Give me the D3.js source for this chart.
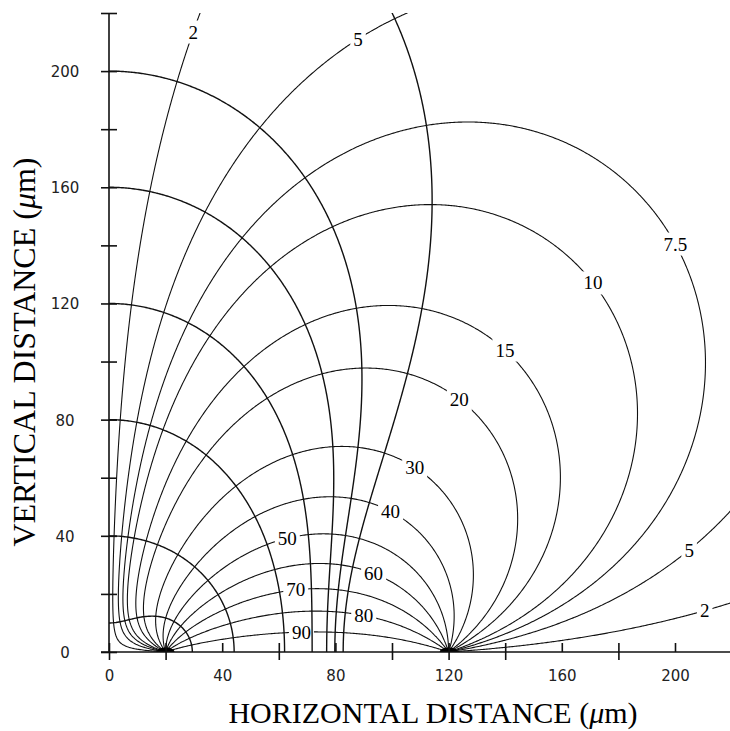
<!DOCTYPE html>
<html>
<head>
<meta charset="utf-8">
<script src="https://cdn.jsdelivr.net/npm/d3@7"></script>
<style>
  body { margin: 0; background: #fff; }
  svg { display: block; }
  .axis .tick text { font-family: 'DejaVu Sans', sans-serif; font-size: 15px; fill: #222; }
  .axis path, .axis line { stroke: #111; stroke-width: 1.6; }
  .title { font-family: 'Liberation Serif', 'DejaVu Serif', serif; font-size: 30px; fill: #000; }
  .lvl { font-family: 'Liberation Serif', 'DejaVu Serif', serif; font-size: 19px; fill: #000; }
</style>
</head>
<body>
<svg class="svg"></svg>
<script>
// source (+) and sink (-) on the surface, insulating wall at x = 0
const electrodeX = [20, 120];
const electrodeSign = [1, -1];
const wallX = 0;

// current flow lines, % of the source current
const flowLevels = [2, 5, 7.5, 10, 15, 20, 30, 40, 50, 60, 70, 80, 90];
// isopotential lines, given by the height where they meet the wall (um)
const isoWallY = [10, 40, 80, 120, 160, 200, 285];

// where the flow line numbers sit: [level, x, y] in um
const labelSpots = [
  [2, 30.4, 213.4], [5, 88, 211], [7.5, 200.7, 140.8], [10, 170.7, 127],
  [15, 139.9, 104], [20, 124, 87.4], [30, 107.4, 62.6], [40, 99.3, 48],
  [50, 63.3, 38.6], [60, 93.3, 26.5], [70, 66.1, 21.3], [80, 90.1, 12.7],
  [90, 67.8, 6.5], [5, 205.3, 35], [2, 210.6, 14.5]
];

const xTicks = d3.range(0, 221, 20);
const yTicks = d3.range(0, 221, 20);
const labeledTicks = [0, 40, 80, 120, 160, 200];

const width = 730;
const height = 731;

const x = d3.scaleLinear().domain([0, 220]).range([109, 731.6]);
const y = d3.scaleLinear().domain([0, 220]).range([652, 13]);

// electrodes and their mirror images behind the wall
const poles = electrodeX.flatMap((px, i) => [
  { x: px, s: electrodeSign[i] },
  { x: 2 * wallX - px, s: electrodeSign[i] }
]);

function flowPct(px, py) {
  let psi = 0;
  poles.forEach(p => { psi += p.s * Math.atan2(py, px - p.x); });
  return -100 * psi / Math.PI;
}

function potential(px, py) {
  let u = 0;
  poles.forEach(p => { u -= p.s * Math.log(Math.hypot(px - p.x, py)); });
  return Math.max(-40, Math.min(40, u));
}

// sample both fields on a grid a little larger than the plot
const step = 0.5, gx0 = -2, gy0 = -2;
const nx = Math.round((224 - gx0) / step) + 1;
const ny = Math.round((224 - gy0) / step) + 1;
const flowGrid = new Float64Array(nx * ny);
const potGrid = new Float64Array(nx * ny);
for (let j = 0; j < ny; j++) {
  for (let i = 0; i < nx; i++) {
    const gx = gx0 + i * step, gy = gy0 + j * step;
    flowGrid[j * nx + i] = flowPct(gx, gy);
    potGrid[j * nx + i] = potential(gx, gy);
  }
}

const flowContours = d3.contours().size([nx, ny]).thresholds(flowLevels)(flowGrid);
const isoLevels = isoWallY.map(v => potential(wallX, v));
const isoContours = d3.contours().size([nx, ny]).thresholds(isoLevels)(potGrid);

// contour grid coords -> um
const toData = c => [gx0 + (c[0] - 0.5) * step, gy0 + (c[1] - 0.5) * step];
const inBox = p => p[0] >= 0 && p[0] <= 220 && p[1] >= 0 && p[1] <= 220;

// cut each ring into the pieces inside the plot box
function runsOf(contour) {
  const runs = [];
  contour.coordinates.forEach(poly => poly.forEach(ring => {
    let pts = ring.map(toData);
    const k = pts.findIndex(p => !inBox(p));
    if (k < 0) { runs.push(pts); return; }
    pts = pts.slice(k).concat(pts.slice(0, k));
    let cur = null, prev = null;
    pts.forEach(p => {
      if (inBox(p)) {
        if (!cur) cur = prev ? [prev] : [];
        cur.push(p);
      } else if (cur) {
        cur.push(p);
        runs.push(cur);
        cur = null;
      }
      prev = p;
    });
    if (cur) runs.push(cur);
  }));
  return runs;
}

// flow lines are only kept where they leave the source or reach the sink
const nearElectrode = run => run.some(p => electrodeX.some(ex => Math.hypot(p[0] - ex, p[1]) < 2));
const flowLines = flowContours.map(c => ({ value: c.value, runs: runsOf(c).filter(nearElectrode) }));
const isoLines = isoContours.map(c => ({ value: c.value, runs: runsOf(c) }));

const line = d3.line().x(d => x(d[0])).y(d => y(d[1]));

const svg = d3.select('.svg').attr('width', width).attr('height', height);
const defs = svg.append('defs');

defs.append('clipPath').attr('id', 'plot-clip')
  .append('rect')
  .attr('x', x(0)).attr('y', y(220))
  .attr('width', x(220) - x(0)).attr('height', y(0) - y(220));

const mask = defs.append('mask').attr('id', 'label-gaps')
  .attr('maskUnits', 'userSpaceOnUse')
  .attr('x', 0).attr('y', 0).attr('width', width).attr('height', height);
mask.append('rect').attr('width', width).attr('height', height).attr('fill', '#fff');

const plot = svg.append('g').attr('clip-path', 'url(#plot-clip)');

plot.append('g')
  .selectAll('path')
  .data(isoLines.flatMap(d => d.runs))
  .join('path')
  .attr('d', line)
  .attr('fill', 'none')
  .attr('stroke', '#111')
  .attr('stroke-width', 1.4);

plot.append('g')
  .attr('mask', 'url(#label-gaps)')
  .selectAll('path')
  .data(flowLines.flatMap(d => d.runs))
  .join('path')
  .attr('d', line)
  .attr('fill', 'none')
  .attr('stroke', '#111')
  .attr('stroke-width', 1.1);

// source and sink
plot.append('g')
  .selectAll('ellipse')
  .data(electrodeX)
  .join('ellipse')
  .attr('cx', d => x(d))
  .attr('cy', y(0))
  .attr('rx', 9)
  .attr('ry', 4.5)
  .attr('fill', '#000');

function nearestOn(lineData, tx, ty) {
  let best = [tx, ty], bd = Infinity;
  lineData.runs.forEach(run => run.forEach(p => {
    if (!inBox(p)) return;
    const sx = x(p[0]), sy = y(p[1]);
    const d = (sx - tx) ** 2 + (sy - ty) ** 2;
    if (d < bd) { bd = d; best = [sx, sy]; }
  }));
  return best;
}

const labels = svg.append('g')
  .selectAll('text')
  .data(labelSpots)
  .join('text')
  .attr('class', 'lvl')
  .attr('text-anchor', 'middle')
  .attr('dy', '0.35em')
  .each(function(d) {
    const fl = flowLines.find(c => c.value === d[0]);
    const p = nearestOn(fl, x(d[1]), y(d[2]));
    d3.select(this).attr('x', p[0]).attr('y', p[1]);
  })
  .text(d => d[0]);

labels.each(function() {
  const b = this.getBBox();
  mask.append('rect')
    .attr('x', b.x - 3).attr('y', b.y - 1)
    .attr('width', b.width + 6).attr('height', b.height + 2)
    .attr('fill', '#000');
});

// axes
const yAxis = svg.append('g')
  .attr('class', 'axis')
  .attr('transform', `translate(${x(0)},0)`)
  .call(d3.axisLeft(y).tickValues(yTicks).tickSize(8).tickSizeOuter(0)
    .tickFormat(d => labeledTicks.includes(d) ? d : ''));
yAxis.selectAll('.tick line').attr('x2', -8).attr('x1', 8);
yAxis.selectAll('.tick text').attr('x', -44).attr('text-anchor', 'middle').attr('dy', '0.36em');
yAxis.select('.domain').attr('d', `M0,${y(220)}V${y(0)}`);

const xAxis = svg.append('g')
  .attr('class', 'axis')
  .attr('transform', `translate(0,${y(0)})`)
  .call(d3.axisBottom(x).tickValues(xTicks).tickSize(8).tickSizeOuter(0)
    .tickFormat(d => labeledTicks.includes(d) ? d : ''));
xAxis.selectAll('.tick line')
  .attr('y1', -9)
  .attr('y2', d => labeledTicks.includes(d) && d !== 0 && d !== 120 ? 0 : 8);
xAxis.selectAll('.tick text').attr('y', 18).attr('dy', '0.71em');
xAxis.select('.domain').attr('d', `M${x(0) - 8},0H${width}`);

const xt = svg.append('text')
  .attr('class', 'title')
  .attr('x', 433).attr('y', 723)
  .attr('text-anchor', 'middle')
  .text('HORIZONTAL DISTANCE (');
xt.append('tspan').attr('font-style', 'italic').text('μ');
xt.append('tspan').text('m)');

const yt = svg.append('text')
  .attr('class', 'title')
  .attr('transform', 'translate(35,352) rotate(-90)')
  .attr('text-anchor', 'middle')
  .style('font-size', '32px')
  .text('VERTICAL DISTANCE (');
yt.append('tspan').attr('font-style', 'italic').text('μ');
yt.append('tspan').text('m)');
</script>
</body>
</html>
